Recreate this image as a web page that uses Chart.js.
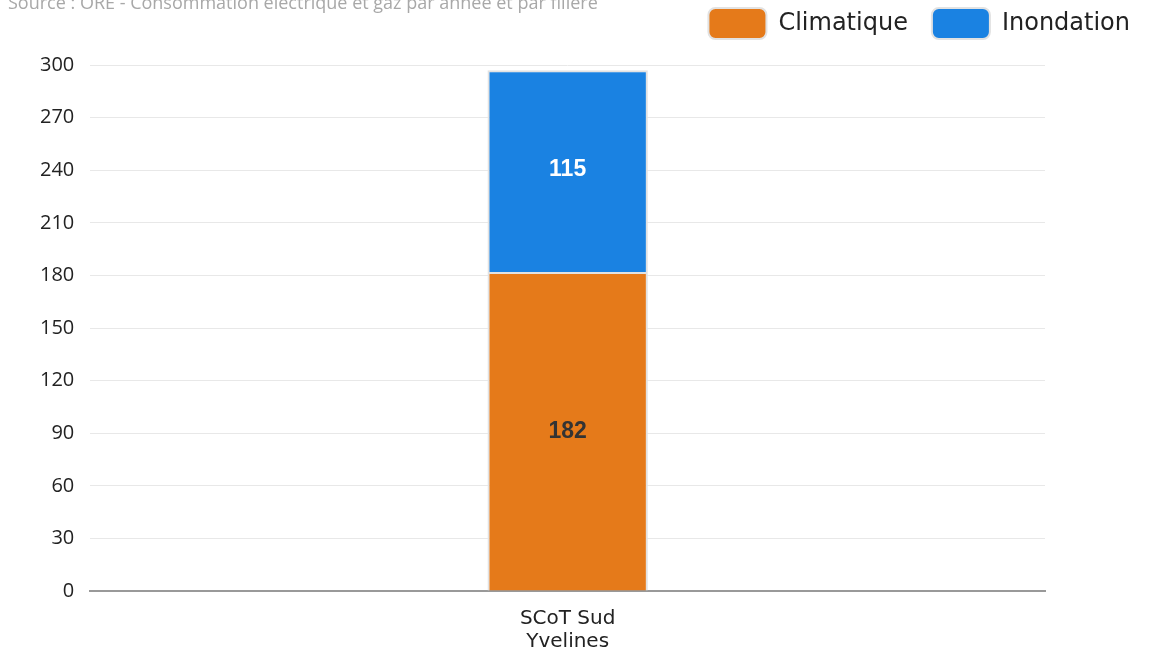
<!DOCTYPE html>
<html>
<head>
<meta charset="utf-8">
<script src="https://cdn.jsdelivr.net/npm/chart.js@4"></script>
<style>
  html, body { margin: 0; padding: 0; background: #fff; }
  #wrap { width: 1152px; height: 657px; }
</style>
</head>
<body>
<div id="wrap"><canvas id="chart"></canvas></div>
<script>
const categories = [['SCoT Sud', 'Yvelines']];
const climatique = [182];
const inondation = [115];
const yTicks = [0, 30, 60, 90, 120, 150, 180, 210, 240, 270, 300];
const sourceText = 'Source : ORE - Consommation électrique et gaz par année et par filière';

// petit plugin maison : source en haut + valeurs dans les barres
const extras = {
  id: 'extras',
  beforeInit(chart) {
    // on garde de la place sous la légende
    const fit = chart.legend.fit;
    chart.legend.fit = function() {
      fit.bind(chart.legend)();
      this.height += 16;
    };
  },
  afterDraw(chart) {
    const ctx = chart.ctx;
    ctx.save();
    ctx.font = '18px "Open Sans"';
    ctx.fillStyle = '#a8a8a8';
    ctx.textAlign = 'left';
    ctx.textBaseline = 'alphabetic';
    ctx.fillText(sourceText, 8, 9);

    chart.data.datasets.forEach((ds, i) => {
      const meta = chart.getDatasetMeta(i);
      meta.data.forEach((bar, j) => {
        const v = ds.data[j];
        ctx.font = 'bold 23px "Liberation Sans"';
        ctx.textAlign = 'center';
        ctx.textBaseline = 'middle';
        if (i === 0) {
          ctx.fillStyle = '#333333';
          ctx.fillText(v, bar.x, (bar.y + bar.base) / 2);
        } else {
          ctx.fillStyle = '#ffffff';
          ctx.fillText(v, bar.x, bar.y + 99);
        }
      });
    });
    ctx.restore();
  }
};

new Chart(document.getElementById('chart'), {
  type: 'bar',
  data: {
    labels: categories,
    datasets: [{
      label: 'Climatique',
      data: climatique,
      backgroundColor: '#E57A1A',
      borderColor: '#e2e2e2',
      borderWidth: 2
    }, {
      label: 'Inondation',
      data: inondation,
      backgroundColor: '#1A82E2',
      borderColor: '#e2e2e2',
      borderWidth: 2
    }]
  },
  options: {
    responsive: true,
    maintainAspectRatio: false,
    animation: false,
    layout: { padding: { left: 24, right: -2, top: -16, bottom: -4 } },
    datasets: { bar: { barPercentage: 0.84, categoryPercentage: 0.2 } },
    plugins: {
      tooltip: { enabled: false },
      legend: {
        position: 'top',
        align: 'end',
        labels: {
          boxWidth: 58,
          boxHeight: 31,
          padding: 24,
          useBorderRadius: true,
          borderRadius: 7,
          color: '#222',
          font: { family: '"DejaVu Sans"', size: 24 }
        }
      }
    },
    scales: {
      x: {
        stacked: true,
        grid: { display: false },
        border: { color: '#999', width: 2 },
        ticks: { color: '#222', font: { family: '"DejaVu Sans"', size: 20, lineHeight: 1.15 }, padding: 8 }
      },
      y: {
        stacked: true,
        min: 0,
        max: 300,
        afterBuildTicks(scale) { scale.ticks = yTicks.map(v => ({ value: v })); },
        grid: { color: '#e8e8e8', drawTicks: false },
        border: { display: false },
        ticks: { color: '#222', padding: 16, font: { family: '"Open Sans"', size: 20 } }
      },
      yr: {
        position: 'right',
        display: true,
        grid: { display: false },
        border: { display: false },
        ticks: { display: false },
        afterFit(scale) { scale.width = 109; }
      }
    }
  },
  plugins: [extras]
});
</script>
</body>
</html>
